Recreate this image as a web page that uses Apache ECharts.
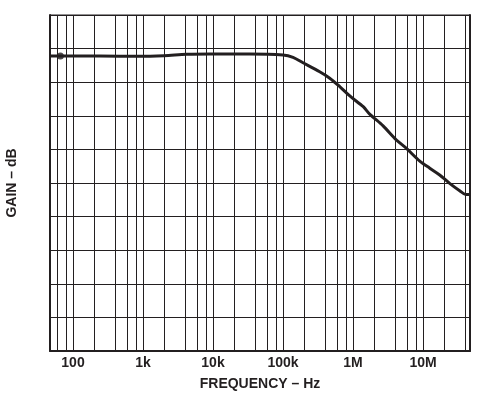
<!DOCTYPE html>
<html>
<head>
<meta charset="utf-8">
<script src="https://cdn.jsdelivr.net/npm/echarts@6/dist/echarts.min.js"></script>
<style>
html,body{margin:0;padding:0;background:#fff;}
#c{width:501px;height:393px;}
</style>
</head>
<body>
<div id="c"></div>
<script>
// Frequency (Hz) and gain (in grid divisions, 0 = bottom, 10 = top)
const freqHz = [46.9, 66, 240, 900, 2000, 4200, 9000, 33000, 100000, 139000, 193000, 334000, 465000, 646000, 900000, 1400000, 1730000, 2690000, 4170000, 5800000, 9000000, 12500000, 17300000, 24000000, 33400000, 40700000, 46900000];
const gainDiv = [8.78, 8.78, 8.78, 8.77, 8.79, 8.83, 8.84, 8.84, 8.81, 8.74, 8.58, 8.31, 8.12, 7.87, 7.59, 7.27, 7.05, 6.70, 6.28, 6.03, 5.65, 5.44, 5.24, 4.99, 4.77, 4.66, 4.66];
const markerPoint = [66, 8.78];
const xMin = 46.9, xMax = 46900000;
const decadeTicks = [100, 1000, 10000, 100000, 1000000, 10000000];
const decadeLabels = ['100', '1k', '10k', '100k', '1M', '10M'];
const gridMultipliers = [2, 4, 6, 8, 10];
const gridDecades = [10, 100, 1000, 10000, 100000, 1000000, 10000000];

const INK = '#231f20';
const vLines = [];
gridDecades.forEach(d => gridMultipliers.forEach(m => {
  const v = d * m;
  if (v > xMin * 1.01 && v < xMax * 0.99) vLines.push({ xAxis: v });
}));

const chart = echarts.init(document.getElementById('c'), null, { renderer: 'canvas' });
chart.setOption({
  animation: false,
  backgroundColor: '#fff',
  grid: { left: 50, top: 15, right: 31, bottom: 42, show: true, borderColor: INK, borderWidth: 1, containLabel: false, outerBoundsMode: 'none' },
  xAxis: {
    type: 'log', logBase: 10, min: xMin, max: xMax,
    name: 'FREQUENCY – Hz', nameLocation: 'middle', nameGap: 26,
    nameTextStyle: { fontFamily: 'Liberation Sans', fontWeight: 'bold', fontSize: 14, color: INK },
    axisLine: { show: true, lineStyle: { color: INK, width: 2 } },
    axisTick: { show: false },
    splitLine: { show: false },
    axisLabel: {
      showMinLabel: false, showMaxLabel: false, margin: 5,
      fontFamily: 'Liberation Sans', fontWeight: 'bold', fontSize: 14, color: INK,
      formatter: function (v) {
        for (let i = 0; i < decadeTicks.length; i++) {
          if (Math.abs(v - decadeTicks[i]) / decadeTicks[i] < 1e-6) return decadeLabels[i];
        }
        return '';
      }
    }
  },
  yAxis: [{
    type: 'value', min: 0, max: 10, interval: 1,
    name: 'GAIN – dB', nameLocation: 'middle', nameGap: 31, nameRotate: 90,
    nameTextStyle: { fontFamily: 'Liberation Sans', fontWeight: 'bold', fontSize: 14, color: INK },
    axisLine: { show: true, lineStyle: { color: INK, width: 2 } },
    axisTick: { show: false },
    axisLabel: { show: false },
    splitLine: { show: true, lineStyle: { color: INK, width: 1 } }
  }, {
    type: 'value', min: 0, max: 10, position: 'right',
    axisLine: { show: true, lineStyle: { color: INK, width: 2 } },
    axisTick: { show: false }, axisLabel: { show: false }, splitLine: { show: false }
  }],
  series: [{
    type: 'line',
    data: freqHz.map((f, i) => [f, gainDiv[i]]),
    smooth: 0.3,
    showSymbol: false,
    lineStyle: { color: INK, width: 3 },
    silent: true,
    z: 5,
    markLine: {
      silent: true, symbol: 'none', animation: false,
      label: { show: false },
      lineStyle: { color: INK, width: 1, type: 'solid' },
      emphasis: { disabled: true },
      data: vLines
    }
  }, {
    type: 'scatter',
    data: [markerPoint],
    symbol: 'circle', symbolSize: 7,
    itemStyle: { color: INK },
    silent: true, z: 6
  }]
});
</script>
</body>
</html>
